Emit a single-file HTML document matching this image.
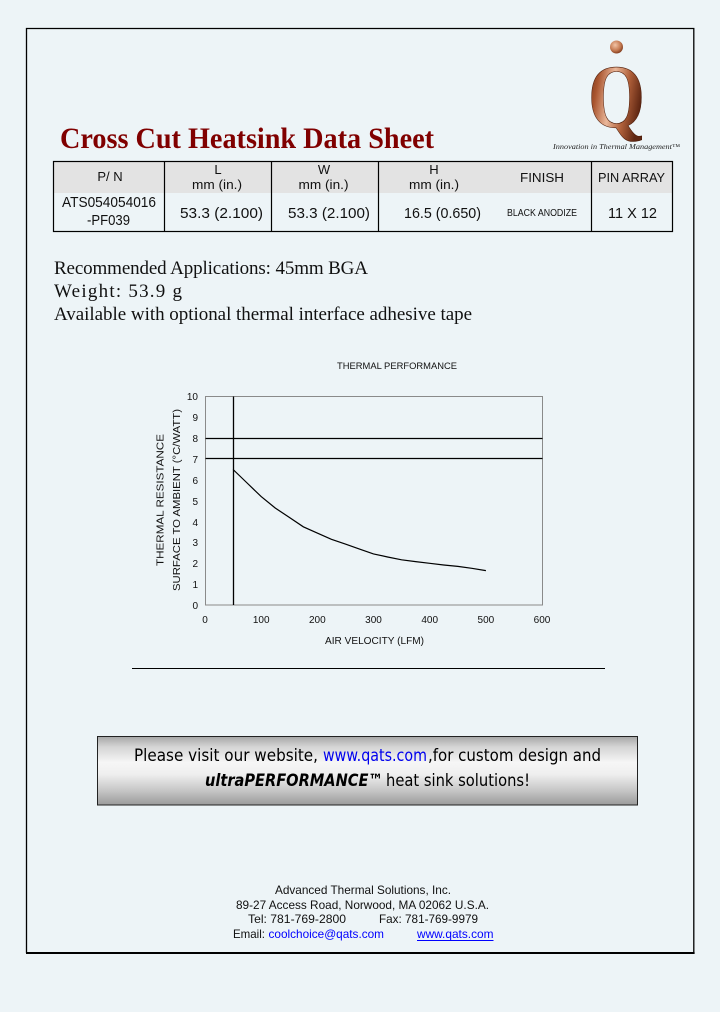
<!DOCTYPE html>
<html>
<head>
<meta charset="utf-8">
<style>
  html,body{margin:0;padding:0;background:#EDF4F7;}
  svg{display:block;}
  .sans{font-family:"Liberation Sans",Arial,sans-serif;}
  .serif{font-family:"Liberation Serif","Times New Roman",serif;}
  .comic{font-family:"DejaVu Sans","Liberation Sans",sans-serif;}
</style>
</head>
<body>
<svg width="720" height="1012" viewBox="0 0 720 1012" xmlns="http://www.w3.org/2000/svg">
  <defs>
    <linearGradient id="banner" x1="0" y1="0" x2="0" y2="1">
      <stop offset="0" stop-color="#a6a6a6"/>
      <stop offset="0.15" stop-color="#d4d4d4"/>
      <stop offset="0.38" stop-color="#f6f6f6"/>
      <stop offset="0.55" stop-color="#efefef"/>
      <stop offset="0.8" stop-color="#c4c4c4"/>
      <stop offset="1" stop-color="#9a9a9a"/>
    </linearGradient>
    <linearGradient id="copper" x1="0" y1="0" x2="1" y2="0.3">
      <stop offset="0" stop-color="#5a2410"/>
      <stop offset="0.25" stop-color="#a9552f"/>
      <stop offset="0.5" stop-color="#eab79a"/>
      <stop offset="0.75" stop-color="#b0603a"/>
      <stop offset="1" stop-color="#5e2612"/>
    </linearGradient>
    <radialGradient id="dot" cx="0.4" cy="0.35" r="0.7">
      <stop offset="0" stop-color="#f2c4a6"/>
      <stop offset="0.6" stop-color="#c57a52"/>
      <stop offset="1" stop-color="#7a3518"/>
    </radialGradient>
  </defs>

  <rect x="0" y="0" width="720" height="1012" fill="#EDF4F7"/>

  <!-- page border -->
  <path d="M26.5 953 V28.5 H693.8 V953" fill="none" stroke="#000" stroke-width="1.3"/>
  <line x1="26" y1="953" x2="694.6" y2="953" stroke="#000" stroke-width="2"/>

  <!-- logo -->
  <circle cx="616.5" cy="47" r="6.5" fill="url(#dot)"/>
  <text x="588" y="127" class="serif" font-size="90" font-weight="bold" fill="url(#copper)" stroke="#4a1a08" stroke-width="0.6" textLength="57" lengthAdjust="spacingAndGlyphs">Q</text>
  <text x="553" y="149" class="serif" font-size="7.5" font-style="italic" fill="#222" textLength="127" lengthAdjust="spacingAndGlyphs">Innovation in Thermal Management™</text>

  <!-- title -->
  <text x="60" y="148" class="serif" font-size="30" font-weight="bold" fill="#800000" textLength="374" lengthAdjust="spacingAndGlyphs">Cross Cut Heatsink Data Sheet</text>

  <!-- table -->
  <rect x="54" y="162" width="618" height="31" fill="#E3E3E3"/>
  <rect x="53.5" y="161.5" width="619" height="70" fill="none" stroke="#000" stroke-width="1.2"/>
  <g stroke="#000" stroke-width="1.2">
    <line x1="164.5" y1="161.5" x2="164.5" y2="231.5"/>
    <line x1="271.5" y1="161.5" x2="271.5" y2="231.5"/>
    <line x1="378.5" y1="161.5" x2="378.5" y2="231.5"/>
    <line x1="591.5" y1="161.5" x2="591.5" y2="231.5"/>
  </g>
  <g class="sans" fill="#111" font-size="13" text-anchor="middle">
    <text x="110" y="181">P/ N</text>
    <text x="218" y="174">L</text>
    <text x="217" y="189" textLength="50" lengthAdjust="spacingAndGlyphs">mm (in.)</text>
    <text x="324" y="174">W</text>
    <text x="323.5" y="189" textLength="50" lengthAdjust="spacingAndGlyphs">mm (in.)</text>
    <text x="434" y="174">H</text>
    <text x="434" y="189" textLength="50" lengthAdjust="spacingAndGlyphs">mm (in.)</text>
    <text x="542" y="182" textLength="44" lengthAdjust="spacingAndGlyphs">FINISH</text>
    <text x="631.5" y="182" textLength="67" lengthAdjust="spacingAndGlyphs">PIN ARRAY</text>
  </g>
  <g class="sans" fill="#111" font-size="15">
    <text x="62" y="207" textLength="94" lengthAdjust="spacingAndGlyphs">ATS054054016</text>
    <text x="87" y="225" textLength="43" lengthAdjust="spacingAndGlyphs">-PF039</text>
    <text x="180" y="218" textLength="83" lengthAdjust="spacingAndGlyphs">53.3  (2.100)</text>
    <text x="288" y="218" textLength="82" lengthAdjust="spacingAndGlyphs">53.3  (2.100)</text>
    <text x="404" y="218" textLength="77" lengthAdjust="spacingAndGlyphs">16.5 (0.650)</text>
    <text x="507" y="216" font-size="10" textLength="70" lengthAdjust="spacingAndGlyphs">BLACK ANODIZE</text>
    <text x="608" y="218" textLength="49" lengthAdjust="spacingAndGlyphs">11 X 12</text>
  </g>

  <!-- info lines -->
  <g class="serif" fill="#111" font-size="19">
    <text x="54" y="274" textLength="314" lengthAdjust="spacing">Recommended Applications: 45mm BGA</text>
    <text x="54" y="297" textLength="128" lengthAdjust="spacing">Weight: 53.9 g</text>
    <text x="54" y="320" textLength="418" lengthAdjust="spacing">Available with optional thermal interface adhesive tape</text>
  </g>

  <!-- chart -->
  <text x="397" y="369" class="sans" font-size="9.5" fill="#111" text-anchor="middle" textLength="120" lengthAdjust="spacingAndGlyphs">THERMAL PERFORMANCE</text>
  <rect x="205.5" y="396.5" width="337" height="208.5" fill="none" stroke="#8a8a8a" stroke-width="1"/>
  <g stroke="#000" stroke-width="1.3">
    <line x1="205.5" y1="438.5" x2="542.5" y2="438.5"/>
    <line x1="205.5" y1="458.5" x2="542.5" y2="458.5"/>
    <line x1="233.5" y1="396.5" x2="233.5" y2="605"/>
  </g>
  <polyline fill="none" stroke="#000" stroke-width="1.2" points="233.1,469.5 247.1,483.0 261.2,496.6 275.2,508.0 289.3,517.4 303.3,526.8 317.3,533.1 331.4,539.3 345.4,544.1 359.5,549.1 373.5,553.9 387.6,557.0 401.6,559.8 415.6,561.6 429.7,563.3 443.7,565.0 457.8,566.4 471.8,568.3 485.9,570.6"/>
  <g class="sans" fill="#111" font-size="10" text-anchor="end">
    <text x="198" y="609">0</text>
    <text x="198" y="588">1</text>
    <text x="198" y="567">2</text>
    <text x="198" y="546">3</text>
    <text x="198" y="526">4</text>
    <text x="198" y="505">5</text>
    <text x="198" y="484">6</text>
    <text x="198" y="463">7</text>
    <text x="198" y="442">8</text>
    <text x="198" y="421">9</text>
    <text x="198" y="400">10</text>
  </g>
  <g class="sans" fill="#111" font-size="10" text-anchor="middle">
    <text x="205" y="623">0</text>
    <text x="261.2" y="623">100</text>
    <text x="317.3" y="623">200</text>
    <text x="373.5" y="623">300</text>
    <text x="429.7" y="623">400</text>
    <text x="485.9" y="623">500</text>
    <text x="542" y="623">600</text>
  </g>
  <text x="374.5" y="644" class="sans" font-size="10" fill="#111" text-anchor="middle" textLength="99" lengthAdjust="spacingAndGlyphs">AIR VELOCITY (LFM)</text>
  <text transform="translate(163.5,500) rotate(-90)" class="sans" font-size="10.5" fill="#111" text-anchor="middle" textLength="132" lengthAdjust="spacingAndGlyphs">THERMAL RESISTANCE</text>
  <text transform="translate(180,500) rotate(-90)" class="sans" font-size="10.5" fill="#111" text-anchor="middle" textLength="182" lengthAdjust="spacingAndGlyphs">SURFACE TO AMBIENT (°C/WATT)</text>

  <!-- separator -->
  <line x1="132" y1="668.5" x2="605" y2="668.5" stroke="#000" stroke-width="1"/>

  <!-- banner -->
  <rect x="97.5" y="736.5" width="540" height="68.5" fill="url(#banner)" stroke="#222" stroke-width="1"/>
  <g class="comic" font-size="17">
    <text x="134" y="761" fill="#000" textLength="184" lengthAdjust="spacingAndGlyphs">Please visit our website,</text>
    <text x="323" y="761" fill="#0000ee" textLength="104" lengthAdjust="spacingAndGlyphs">www.qats.com</text>
    <text x="428" y="761" fill="#000" textLength="173" lengthAdjust="spacingAndGlyphs">,for custom design and</text>
    <text x="205" y="786" fill="#000" font-weight="bold" font-style="italic" textLength="178" lengthAdjust="spacingAndGlyphs">ultraPERFORMANCE™</text>
    <text x="386" y="786" fill="#000" textLength="144" lengthAdjust="spacingAndGlyphs">heat sink solutions!</text>
  </g>

  <!-- footer -->
  <g class="sans" font-size="12" fill="#111">
    <text x="275" y="894" textLength="176" lengthAdjust="spacingAndGlyphs">Advanced Thermal Solutions, Inc.</text>
    <text x="236" y="909" textLength="253" lengthAdjust="spacingAndGlyphs">89-27 Access Road, Norwood, MA 02062 U.S.A.</text>
    <text x="248" y="923" textLength="98" lengthAdjust="spacingAndGlyphs">Tel:  781-769-2800</text>
    <text x="379" y="923" textLength="99" lengthAdjust="spacingAndGlyphs">Fax: 781-769-9979</text>
    <text x="233" y="938" textLength="32" lengthAdjust="spacingAndGlyphs">Email:</text>
    <text x="268.5" y="938" fill="#0000ff" textLength="115.5" lengthAdjust="spacingAndGlyphs">coolchoice@qats.com</text>
    <text x="417" y="938" fill="#0000ff" textLength="76.5" lengthAdjust="spacingAndGlyphs">www.qats.com</text>
  </g>
  <line x1="417" y1="940.5" x2="493.5" y2="940.5" stroke="#0000ff" stroke-width="1"/>
</svg>
</body>
</html>
